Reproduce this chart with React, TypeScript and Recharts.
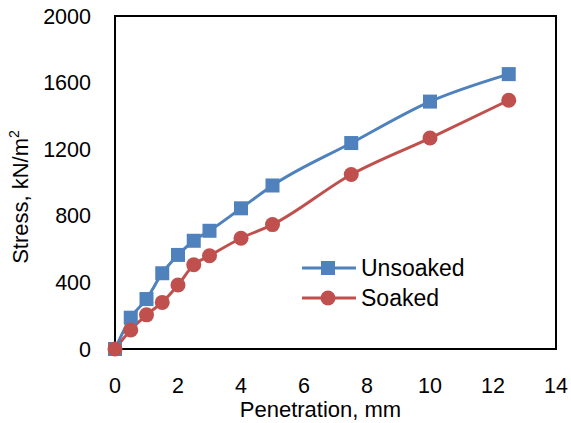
import { LineChart, Line, XAxis, YAxis, ReferenceArea } from "recharts"

const penetration = [0, 0.5, 1, 1.5, 2, 2.5, 3, 4, 5, 7.5, 10, 12.5]
const unsoaked = [0, 188, 300, 455, 565, 650, 710, 845, 982, 1237, 1486, 1651]
const soaked = [0, 114, 205, 280, 384, 506, 560, 665, 747, 1048, 1267, 1494]
const xTicks = [0, 2, 4, 6, 8, 10, 12, 14]
const yTicks = [0, 400, 800, 1200, 1600, 2000]

const data = penetration.map((p, i) => ({ p, unsoaked: unsoaked[i], soaked: soaked[i] }))

const BLUE = "#4F81BD"
const RED = "#C0504D"
const FONT = "'Liberation Sans', Arial, sans-serif"

const legendItems = [
  { name: "Unsoaked", color: BLUE, shape: "square" },
  { name: "Soaked", color: RED, shape: "circle" },
]

function SquareDot(props: any) {
  const { cx, cy } = props
  if (cx == null || cy == null) return null
  return <rect x={cx - 7} y={cy - 7} width={14} height={14} fill={BLUE} />
}

function CircleDot(props: any) {
  const { cx, cy } = props
  if (cx == null || cy == null) return null
  return <circle cx={cx} cy={cy} r={7.5} fill={RED} />
}

// legend sits inside the plot, lower middle
function LegendBox() {
  return (
    <div style={{ position: "absolute", left: 300, top: 253, fontFamily: FONT, fontSize: 23, color: "#000", lineHeight: "30px" }}>
      {legendItems.map((it) => (
        <div key={it.name} style={{ display: "flex", alignItems: "center" }}>
          <svg width={58} height={30} style={{ display: "block" }}>
            <line x1={2} y1={15} x2={56} y2={15} stroke={it.color} strokeWidth={3} />
            {it.shape === "square" ? (
              <rect x={21} y={8} width={14} height={14} fill={it.color} />
            ) : (
              <circle cx={28} cy={15} r={7.5} fill={it.color} />
            )}
          </svg>
          <span style={{ marginLeft: 3 }}>{it.name}</span>
        </div>
      ))}
    </div>
  )
}

export default function App() {
  const tickStyle = { fill: "#000", fontSize: 21.5, fontFamily: FONT }
  return (
    <div style={{ position: "absolute", left: 0, top: 0, width: 571, height: 423, background: "#fff" }}>
      <LineChart width={571} height={423} data={data} margin={{ top: 16, right: 15, left: 0, bottom: 0 }}>
        <XAxis
          type="number"
          dataKey="p"
          domain={[0, 14]}
          ticks={xTicks}
          height={74}
          axisLine={false}
          tickLine={false}
          tickSize={0}
          tickMargin={29}
          tick={tickStyle}
          label={(props: any) => {
            const vb = props.viewBox
            return (
              <text x={vb.x + vb.width / 2 - 15} y={417} textAnchor="middle" fontSize={22} fontFamily={FONT} fill="#000">
                Penetration, mm
              </text>
            )
          }}
        />
        <YAxis
          type="number"
          domain={[0, 2000]}
          ticks={yTicks}
          width={115}
          axisLine={false}
          tickLine={false}
          tickSize={0}
          tickMargin={24}
          tick={tickStyle}
          label={() => (
            <text x={28} y={197} transform="rotate(-90 28 197)" textAnchor="middle" fontSize={22} fontFamily={FONT} fill="#000">
              Stress, kN/m<tspan fontSize={14} dy={-9}>2</tspan>
            </text>
          )}
        />
        <ReferenceArea x1={0} x2={14} y1={0} y2={2000} fill="none" stroke="#000" strokeWidth={2} ifOverflow="visible" />
        <Line type="monotone" dataKey="unsoaked" stroke={BLUE} strokeWidth={3} dot={<SquareDot />} activeDot={false} isAnimationActive={false} />
        <Line type="monotone" dataKey="soaked" stroke={RED} strokeWidth={3} dot={<CircleDot />} activeDot={false} isAnimationActive={false} />
      </LineChart>
      <LegendBox />
    </div>
  )
}
